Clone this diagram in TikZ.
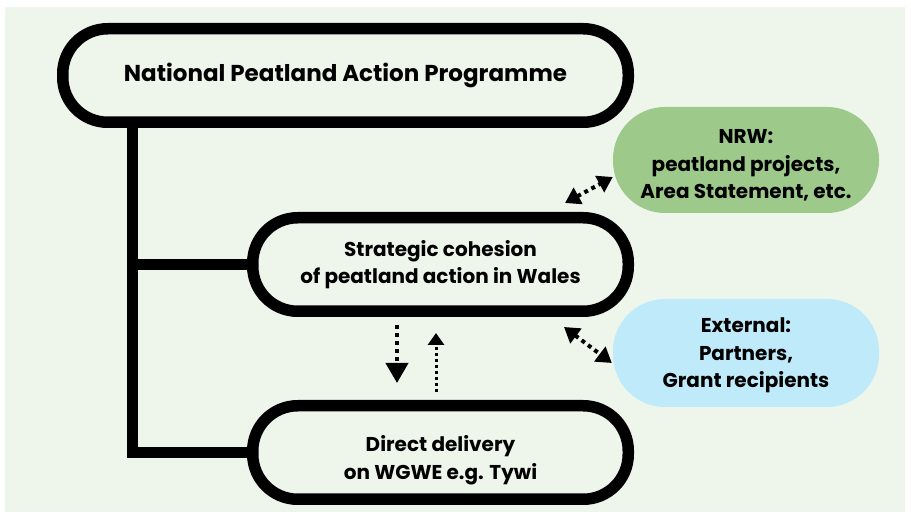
\documentclass[tikz,border=0pt]{standalone}
\usepackage{fontspec}
\setmainfont{Poppins}
\usetikzlibrary{arrows.meta,calc}
\definecolor{pagebg}{RGB}{238,246,236}
\definecolor{nrwgreen}{RGB}{157,201,139}
\definecolor{extblue}{RGB}{190,234,250}
\newcommand{\dropto}[1]{\rule{0pt}{#1}}

\begin{document}
\begin{tikzpicture}[x=1pt, y=-1pt,
  capsule/.style={draw=black, line width=11.5pt, rounded corners=45pt, minimum width=375.5pt, minimum height=93.5pt, align=center, font=\fontsize{20}{27.5}\selectfont\bfseries},
  partner/.style={rounded corners=52pt, minimum width=266pt, align=center, font=\fontsize{20}{27.5}\selectfont\bfseries},
  tree/.style={line width=11.5pt, line join=miter},
  flow/.style={line width=4pt, dash pattern=on 4pt off 4pt}]
% Page and background
\useasboundingbox (0,0) rectangle (911,518);
\fill[white] (0,0) rectangle (911,518);
\fill[pagebg] (5,7) rectangle (905,512);

% Programme box
\node[capsule, minimum width=565.5pt, font=\fontsize{23}{28}\selectfont\bfseries] (npap) at (345.5,75.5) {National Peatland Action Programme};

% Strategy and delivery boxes
\node[capsule] (cohesion) at (440.5,264.5) {Strategic cohesion\\of peatland action in Wales};
\node[capsule] (delivery) at (440.5,452.5) {\dropto{32pt}Direct delivery\\on WGWE e.g. Tywi};

% Partner boxes
\node[partner, fill=nrwgreen, minimum height=106pt] (nrw) at (746,160) {\dropto{25pt}NRW:\\peatland projects,\\Area Statement, etc.};
\node[partner, fill=extblue, minimum height=108pt] (ext) at (746,353) {\dropto{20pt}External:\\Partners,\\Grant recipients};

% Tree
\coordinate (trunk) at (132.5,0);
\draw[tree] (trunk |- npap.south) |- (delivery.west);
\draw[tree] (trunk |- cohesion.west) -- (cohesion.west);

% Arrows
\draw[flow, -{Triangle[length=20pt, width=22pt]}] ([shift={(-43.5,8)}]cohesion.south) -- ([shift={(-43.5,-17)}]delivery.north);
\draw[flow, line width=3pt, dash pattern=on 3pt off 3pt, -{Triangle[length=12pt, width=16pt]}] ([shift={(-4.5,-8)}]delivery.north) -- ([shift={(-4.5,16)}]cohesion.south);
\draw[flow, {Triangle[length=15pt, width=18pt]}-{Triangle[length=15pt, width=18pt]}] ([shift={(-69,-9)}]cohesion.north east) -- ([shift={(0,17)}]nrw.west);
\draw[flow, {Triangle[length=15pt, width=18pt]}-{Triangle[length=15pt, width=18pt]}] ([shift={(-70,10)}]cohesion.south east) -- ([shift={(-1,10)}]ext.west);
\end{tikzpicture}
\end{document}
